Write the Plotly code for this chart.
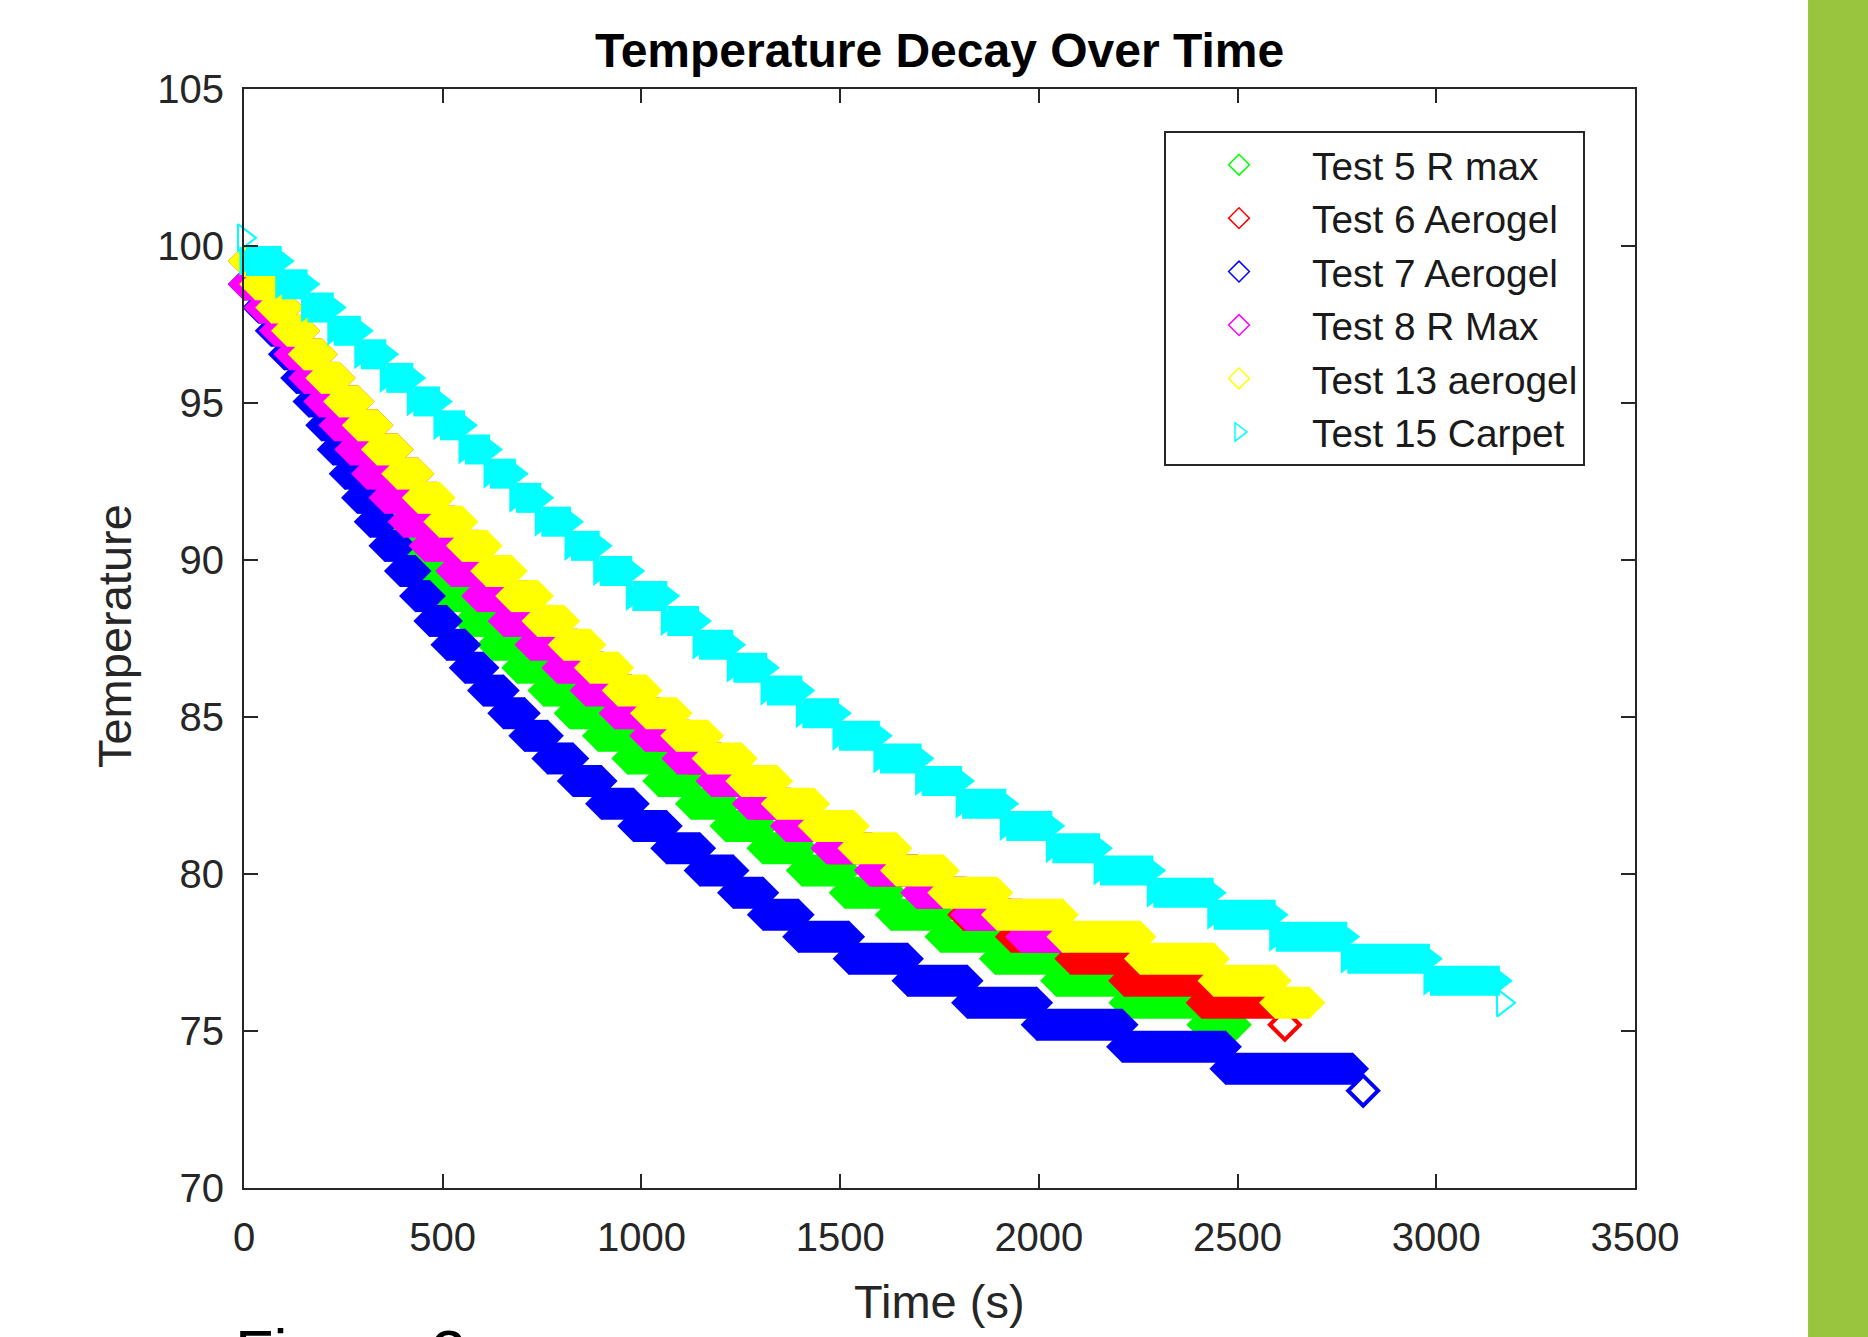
import plotly.graph_objects as go

FONT = "Liberation Sans, Arial, sans-serif"

# ---------------- data ----------------
x_ticks = [0, 500, 1000, 1500, 2000, 2500, 3000, 3500]
y_ticks = [70, 75, 80, 85, 90, 95, 100, 105]

names = ["Test 5 R max", "Test 6 Aerogel", "Test 7 Aerogel",
         "Test 8 R Max", "Test 13 aerogel", "Test 15 Carpet"]
colors = ["#00FF00", "#FF0000", "#0000FF", "#FF00FF", "#FFFF00", "#00FFFF"]

# Test 5 R max : start time of each temperature level, and the level
t5_start = [0, 40, 76, 112, 147, 182, 218, 252, 288, 325, 362, 402, 446, 505, 566, 626,
            688, 754, 820, 891, 965, 1043, 1125, 1212, 1305, 1404, 1512, 1628, 1753,
            1890, 2044, 2216, 2412]
t5_temp = [98.78, 98.04, 97.3, 96.55, 95.8, 95.05, 94.29, 93.52, 92.75, 91.98, 91.22,
           90.45, 89.65, 88.85, 88.06, 87.3, 86.57, 85.84, 85.12, 84.4, 83.68, 82.96,
           82.24, 81.53, 80.82, 80.11, 79.4, 78.7, 78.0, 77.3, 76.6, 75.9, 75.2]
t5_end = 2495

# Test 6 Aerogel
t6_start = [0, 29, 69, 109, 151, 195, 240, 287, 335, 386, 438, 485, 530, 588, 648, 712,
            775, 838, 905, 975, 1045, 1120, 1200, 1285, 1375, 1475, 1580, 1695, 1810,
            1930, 2080, 2215, 2410]
t6_temp = [99.52, 98.78, 98.04, 97.3, 96.55, 95.8, 95.05, 94.29, 93.52, 92.75, 91.98,
           91.22, 90.45, 89.65, 88.85, 88.06, 87.3, 86.57, 85.84, 85.12, 84.4, 83.68,
           82.96, 82.24, 81.53, 80.82, 80.11, 79.4, 78.7, 78.0, 77.3, 76.6, 75.9]
t6_end = 2590
t6_last_t = [2619]
t6_last_T = [75.2]

# Test 7 Aerogel
t7_start = [0, 36, 68, 101, 132, 163, 195, 224, 254, 285, 317, 354, 393, 431, 467, 510,
            556, 602, 653, 706, 764, 828, 899, 980, 1063, 1147, 1231, 1306, 1395, 1522,
            1670, 1820, 1995, 2210, 2470]
t7_temp = [98.78, 98.04, 97.3, 96.55, 95.8, 95.05, 94.29, 93.52, 92.75, 91.98, 91.22,
           90.45, 89.65, 88.85, 88.06, 87.3, 86.57, 85.84, 85.12, 84.4, 83.68, 82.96,
           82.24, 81.53, 80.82, 80.11, 79.4, 78.7, 78.0, 77.3, 76.6, 75.9, 75.2, 74.5,
           73.8]
t7_end = 2790
t7_last_t = [2816]
t7_last_T = [73.1]

# Test 8 R Max
t8_start = [0, 40, 78, 115, 152, 190, 228, 268, 310, 354, 402, 455, 522, 587, 654, 721,
            789, 860, 933, 1010, 1091, 1177, 1268, 1364, 1466, 1575, 1692, 1818, 1956]
t8_temp = [98.78, 98.04, 97.3, 96.55, 95.8, 95.05, 94.29, 93.52, 92.75, 91.98, 91.22,
           90.45, 89.65, 88.85, 88.06, 87.3, 86.57, 85.84, 85.12, 84.4, 83.68, 82.96,
           82.24, 81.53, 80.82, 80.11, 79.4, 78.7, 78.0]
t8_end = 2070

# Test 13 aerogel
t13_start = [0, 29, 69, 109, 151, 195, 240, 287, 335, 386, 438, 492, 549, 610, 673, 739,
             805, 871, 941, 1012, 1088, 1167, 1252, 1341, 1434, 1534, 1641, 1760, 1895,
             2060, 2255, 2440, 2595]
t13_temp = [99.52, 98.78, 98.04, 97.3, 96.55, 95.8, 95.05, 94.29, 93.52, 92.75, 91.98,
            91.22, 90.45, 89.65, 88.85, 88.06, 87.3, 86.57, 85.84, 85.12, 84.4, 83.68,
            82.96, 82.24, 81.53, 80.82, 80.11, 79.4, 78.7, 78.0, 77.3, 76.6, 75.9]
t13_end = 2680

# Test 15 Carpet
t15_start = [5, 95, 160, 226, 294, 358, 426, 493, 556, 619, 684, 748, 823, 895, 977, 1065,
             1145, 1231, 1316, 1405, 1497, 1600, 1705, 1807, 1918, 2034, 2154, 2288,
             2440, 2596, 2776, 2984]
t15_temp = [99.52, 98.78, 98.04, 97.3, 96.55, 95.8, 95.05, 94.29, 93.52, 92.75, 91.98,
            91.22, 90.45, 89.65, 88.85, 88.06, 87.3, 86.57, 85.84, 85.12, 84.4, 83.68,
            82.96, 82.24, 81.53, 80.82, 80.11, 79.4, 78.7, 78.0, 77.3, 76.6]
t15_end = 3160
t15_first_t = [0]
t15_first_T = [100.26]
t15_last_t = [3168]
t15_last_T = [75.9]

# ---------------- figure ----------------
def steps(starts, temps, end):
    xs, ys = [], []
    for i, (t0, T) in enumerate(zip(starts, temps)):
        t1 = starts[i + 1] if i + 1 < len(starts) else end
        xs += [t0, t1, None]
        ys += [T, T, None]
    return xs, ys

series = [
    (t5_start, t5_temp, t5_end, "diamond"),
    (t6_start, t6_temp, t6_end, "diamond"),
    (t7_start, t7_temp, t7_end, "diamond"),
    (t8_start, t8_temp, t8_end, "diamond"),
    (t13_start, t13_temp, t13_end, "diamond"),
    (t15_start, t15_temp, t15_end, "triangle-right"),
]
extra = {
    1: [(t6_last_t, t6_last_T, "diamond-open", 23, 4)],
    2: [(t7_last_t, t7_last_T, "diamond-open", 23, 4)],
    5: [(t15_first_t, t15_first_T, "triangle-right-open", 24, 2),
        (t15_last_t, t15_last_T, "triangle-right-open", 24, 2)],
}

fig = go.Figure()
for k, (st, tp, en, sym) in enumerate(series):
    xs, ys = steps(st, tp, en)
    c = colors[k]
    band = 30 if sym == "triangle-right" else 32
    msize = 26 if sym == "triangle-right" else 25
    fig.add_trace(go.Scatter(
        x=xs, y=ys, mode="lines+markers", showlegend=False, hoverinfo="skip",
        cliponaxis=False,
        line=dict(color=c, width=band, simplify=False),
        marker=dict(symbol=sym, size=msize, color=c, line=dict(width=0)),
    ))
    for (ex, ey, esym, esz, elw) in extra.get(k, []):
        fig.add_trace(go.Scatter(
            x=ex, y=ey, mode="markers", showlegend=False, hoverinfo="skip",
            cliponaxis=False,
            marker=dict(symbol=esym, size=esz, color=c, line=dict(width=elw, color=c)),
        ))

legend_symbols = ["diamond-open"] * 5 + ["triangle-right-open"]
for k in range(6):
    fig.add_trace(go.Scatter(
        x=[None], y=[None], mode="markers", name=names[k],
        marker=dict(symbol=legend_symbols[k], size=16, color=colors[k],
                    line=dict(width=1.5, color=colors[k])),
    ))

axis_common = dict(
    ticks="inside", ticklen=14, tickwidth=2, tickcolor="#262626",
    showline=True, linewidth=2, linecolor="#262626", mirror="ticks",
    showgrid=False, zeroline=False,
    tickfont=dict(size=40, color="#262626", family=FONT),
)
fig.update_xaxes(range=[0, 3500], tickvals=x_ticks, ticklabelstandoff=13, **axis_common)
fig.update_yaxes(range=[70, 105], tickvals=y_ticks, ticklabelstandoff=10, **axis_common)

fig.update_layout(
    width=1868, height=1337,
    margin=dict(l=244, r=233, t=89, b=149),
    paper_bgcolor="white", plot_bgcolor="white",
    title=dict(text="<b>Temperature Decay Over Time</b>", x=0.5, xref="paper",
               xanchor="center", y=1 - 50 / 1337, yref="container", yanchor="middle",
               font=dict(size=48, color="black", family=FONT)),
    legend=dict(x=0.6614, y=0.9618, xanchor="left", yanchor="top",
                bordercolor="#262626", borderwidth=2, bgcolor="white",
                font=dict(size=38.8, color="#1a1a1a", family=FONT),
                itemwidth=136, traceorder="normal"),
    annotations=[
        dict(text="Time (s)", x=0.5, y=-0.1037, xref="paper", yref="paper",
             xanchor="center", yanchor="middle", showarrow=False,
             font=dict(size=47, color="#262626", family=FONT)),
        dict(text="Temperature", x=-0.0927, y=0.5023, xref="paper", yref="paper",
             xanchor="center", yanchor="middle", showarrow=False, textangle=-90,
             font=dict(size=47, color="#262626", family=FONT)),
        dict(text="Figure 2", x=-0.0079, y=-0.1155, xref="paper", yref="paper",
             xanchor="left", yanchor="top", showarrow=False,
             font=dict(size=63, color="black", family=FONT)),
    ],
    shapes=[dict(type="rect", xref="paper", yref="paper", x0=1.1244, x1=1.25,
                 y0=-0.3, y1=1.3, fillcolor="#99C43D", line=dict(width=0), layer="below")],
)

# remove the page's default 8 px body margin so the figure fills the window exactly
fig.write_html("out.html", config={"displayModeBar": False},
               post_script="document.body.style.margin='0px';")
